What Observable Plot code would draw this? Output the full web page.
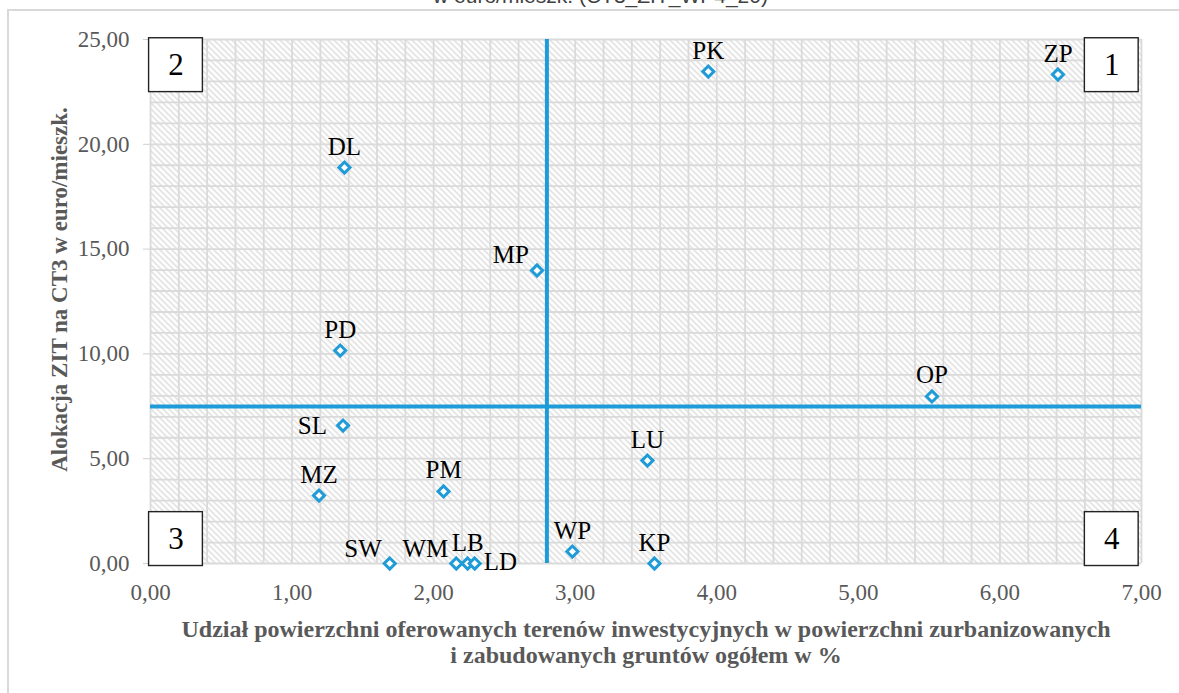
<!DOCTYPE html>
<html><head><meta charset="utf-8">
<script src="https://cdn.jsdelivr.net/npm/d3@7"></script>
<script src="https://cdn.jsdelivr.net/npm/@observablehq/plot@0.6"></script>
<style>
html,body{margin:0;padding:0;background:#fff;width:1179px;height:693px;overflow:hidden;}
#wrap{position:relative;width:1179px;height:693px;overflow:hidden;}
#frame{position:absolute;left:7px;top:9px;width:1300px;height:800px;border-top:2px solid #d9d9d9;border-left:2px solid #d9d9d9;}
#title{position:absolute;top:-15px;left:0;width:1179px;text-align:center;font-family:"Liberation Sans",Arial,sans-serif;font-size:21px;line-height:21px;color:#404040;padding-left:22px;box-sizing:border-box;white-space:nowrap;}
#chart{position:absolute;left:0;top:0;}
</style></head>
<body><div id="wrap"><div id="frame"></div><div id="title">w euro/mieszk. (CT3_ZIT_WP4_20)</div><div id="chart"></div></div>
<script>
// ---- data ----
const regions    = ["PK","ZP","DL","MP","PD","OP","SL","LU","MZ","PM","WP","KP","SW","WM","LB","LD"];
const shareX     = [3.94, 6.41, 1.37, 2.73, 1.34, 5.52, 1.36, 3.51, 1.19, 2.07, 2.98, 3.56, 1.69, 2.16, 2.24, 2.29];
const allocY     = [23.47,23.33,18.89,13.98,10.16, 7.97, 6.58, 4.91, 3.24, 3.44, 0.57, 0.00, 0.00, 0.00, 0.00, 0.00];
const labelPlace = ["top","top","top","upleft","top","top","left","top","top","top","top","top","upleft","upleft","top","right"];
const refX = 2.80;   // vertical dividing line
const refY = 7.49;   // horizontal dividing line
const xTicks = [0,1,2,3,4,5,6,7];
const yTicks = [0,5,10,15,20,25];
const quadrantNames   = ["1","2","3","4"];
const quadrantCorners = ["top-right","top-left","bottom-left","bottom-right"];
const xTitle = "Udział powierzchni oferowanych terenów inwestycyjnych w powierzchni zurbanizowanych\ni zabudowanych gruntów ogółem w %";
const yTitle = "Alokacja ZIT na CT3 w euro/mieszk.";

// ---- build ----
const points = regions.map((name, i) => ({name, x: shareX[i], y: allocY[i], place: labelPlace[i]}));
const xDom = [0, 7], yDom = [0, 25];
const boxW = 0.38, boxH = 2.57;
const boxes = quadrantNames.map((q, i) => {
  const c = quadrantCorners[i];
  const right = c.endsWith("right"), top = c.startsWith("top");
  const x1 = right ? xDom[1] - 0.02 - boxW : xDom[0] - 0.01;
  const y2 = top ? yDom[1] + 0.06 : yDom[0] - 0.12 + boxH;
  return {q, x1, x2: x1 + boxW, y1: y2 - boxH, y2};
});
const fmt = d => d.toFixed(2).replace(".", ",");
const blue = "#1f9bd7";
const grid = "#dadada";
const axisGray = "#595959";
const lab = {text: "name", fontSize: 25, fill: "black"};

const plot = Plot.plot({
  width: 1179, height: 693,
  marginLeft: 150, marginRight: 38, marginTop: 39, marginBottom: 130,
  x: {domain: xDom, label: null},
  y: {domain: yDom, label: null},
  style: {fontFamily: "'Liberation Serif','Times New Roman',serif", background: "transparent", overflow: "visible"},
  marks: [
    Plot.frame({fill: "url(#hatch)", stroke: null}),
    Plot.gridX({ticks: d3.range(0, 7.0001, 0.2), stroke: grid, strokeOpacity: 1, strokeWidth: 1.8}),
    Plot.gridY({ticks: d3.range(0, 25.0001, 1), stroke: grid, strokeOpacity: 1, strokeWidth: 1.8}),
    Plot.axisY({ticks: yTicks, tickFormat: fmt, tickSize: 7, tickPadding: 14, stroke: "#d0d0d0", color: axisGray, fontSize: 23, label: null}),
    Plot.axisX({ticks: xTicks, tickFormat: fmt, tickSize: 0, tickPadding: 20, color: axisGray, fontSize: 23, label: null}),
    Plot.ruleX([refX], {stroke: blue, strokeWidth: 4}),
    Plot.ruleY([refY], {stroke: blue, strokeWidth: 4}),
    Plot.rect(boxes, {x1: "x1", x2: "x2", y1: "y1", y2: "y2", fill: "white", stroke: "#222", strokeWidth: 1.4}),
    Plot.text(boxes, {x: d => (d.x1 + d.x2) / 2, y: d => (d.y1 + d.y2) / 2, text: "q", fontSize: 31, fill: "black", lineAnchor: "middle"}),
    Plot.dot(points, {x: "x", y: "y", symbol: "diamond2", r: 5, stroke: blue, strokeWidth: 3, fill: "white"}),
    Plot.text(points.filter(d => d.place === "top"), {x: "x", y: "y", ...lab, dy: -13, lineAnchor: "bottom"}),
    Plot.text(points.filter(d => d.place === "left"), {x: "x", y: "y", ...lab, dx: -16, textAnchor: "end", lineAnchor: "middle"}),
    Plot.text(points.filter(d => d.place === "upleft"), {x: "x", y: "y", ...lab, dx: -8, dy: -7, textAnchor: "end", lineAnchor: "bottom"}),
    Plot.text(points.filter(d => d.place === "right"), {x: "x", y: "y", ...lab, dx: 9, dy: -2, textAnchor: "start", lineAnchor: "middle"}),
    Plot.text([yTitle], {frameAnchor: "left", rotate: -90, dx: -91, dy: -12, text: d => d, textAnchor: "middle", fontSize: 23, fontWeight: "bold", fill: axisGray, lineAnchor: "middle"}),
    Plot.text([xTitle], {frameAnchor: "bottom", dy: 55, text: d => d, textAnchor: "middle", fontSize: 24, fontWeight: "bold", fill: axisGray, lineAnchor: "top", lineHeight: 1.08})
  ]
});

const svg = d3.select(plot);
const defs = svg.insert("defs", ":first-child");
const pat = defs.append("pattern").attr("id", "hatch").attr("patternUnits", "userSpaceOnUse").attr("width", 6).attr("height", 6);
pat.append("rect").attr("width", 6).attr("height", 6).attr("fill", "white");
pat.append("path").attr("d", "M-1,-1L7,7M-1,5L1,7M5,-1L7,1").attr("stroke", "#d2d2d2").attr("stroke-width", 1.2).attr("fill", "none");

document.getElementById("chart").appendChild(plot);
</script>
</body></html>
